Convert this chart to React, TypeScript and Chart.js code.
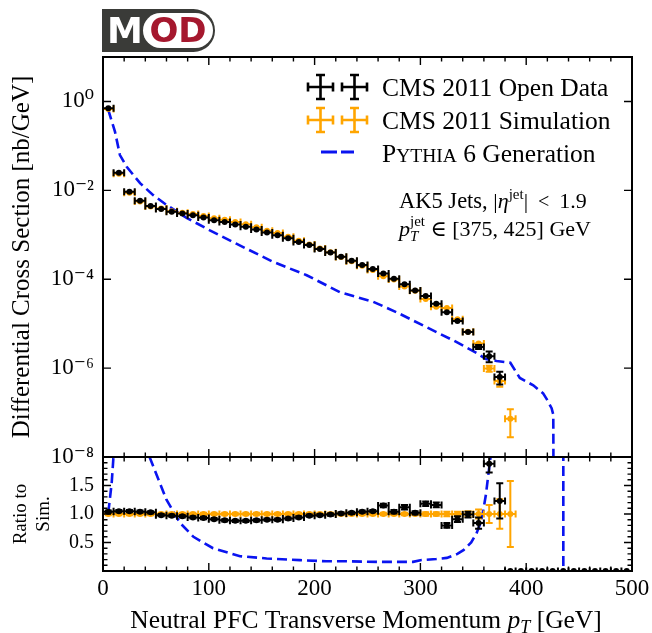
import React, { useEffect, useRef } from 'react';
import { Chart, registerables } from 'chart.js';
Chart.register(...registerables);

const FONT = "'Liberation Serif', 'DejaVu Serif', serif";

// ---------- data ----------
const binHalfWidth = 5;
const binCenters = [5, 15, 25, 35, 45, 55, 65, 75, 85, 95, 105, 115, 125, 135, 145, 155, 165, 175, 185, 195, 205, 215, 225, 235, 245, 255, 265, 275, 285, 295, 305, 315, 325, 335, 345, 355, 365, 375];
const dataValues = [0.70, 0.0248, 0.0093, 0.0058, 0.00447, 0.0038, 0.0033, 0.0030, 0.00276, 0.00246, 0.00213, 0.00195, 0.0017, 0.00151, 0.00132, 0.00112, 0.00098, 0.00083, 0.00069, 0.00059, 0.00048, 0.00040, 0.00032, 0.00026, 0.00021, 0.00017, 0.000135, 0.000102, 7.7e-5, 5.6e-5, 4.2e-5, 2.8e-5, 1.8e-5, 1.15e-5, 6.5e-6, 3.0e-6, 1.85e-6, 6.3e-7];
const dataErrors = [0, 0, 0, 0, 0, 0, 0, 0, 0, 0, 0, 0, 0, 0, 0, 0, 0, 0, 0, 0, 0, 0, 0, 0, 0, 0, 0, 0, 0, 0, 0, 0, 0, 0, 0, 0.3e-6, 0.5e-6, 0.2e-6];

const simCenters = [5, 15, 25, 35, 45, 55, 65, 75, 85, 95, 105, 115, 125, 135, 145, 155, 165, 175, 185, 195, 205, 215, 225, 235, 245, 255, 265, 275, 285, 295, 305, 315, 325, 335, 345, 355, 365, 375, 385];
const simValues = [0.673, 0.0236, 0.00886, 0.00558, 0.00434, 0.00388, 0.0034, 0.00313, 0.00294, 0.00265, 0.00234, 0.00219, 0.00193, 0.00172, 0.00148, 0.00124, 0.00109, 0.0009, 0.000734, 0.000608, 0.00049, 0.000404, 0.000317, 0.000255, 0.000202, 0.000162, 0.000117, 9.8e-5, 6.9e-5, 5.5e-5, 3.6e-5, 2.4e-5, 2.25e-5, 1.26e-5, 6.6e-6, 3.6e-6, 9.8e-7, 5.1e-7, 7.3e-8];
const simErrors = [0, 0, 0, 0, 0, 0, 0, 0, 0, 0, 0, 0, 0, 0, 0, 0, 0, 0, 0, 0, 0, 0, 0, 0, 0, 0, 0, 0, 0, 0, 0, 0, 0, 0, 0, 0, 0.15e-6, 0.13e-6, 4.5e-8];

const pythiaX = [5, 6, 11.3, 16, 22.4, 35, 47.5, 60, 79, 101, 126, 161, 192.5, 224, 255.5, 277.6, 301, 332, 353, 362, 372, 385, 394, 406.7, 416, 420, 424, 425.6, 426];
const pythiaY = [0.65, 0.54, 0.21, 0.062, 0.034, 0.0145, 0.0078, 0.0047, 0.0024, 0.00126, 6.3e-4, 2.45e-4, 1.23e-4, 5.1e-5, 3.1e-5, 1.8e-5, 9.5e-6, 4.1e-6, 2.2e-6, 1.6e-6, 1.45e-6, 1.32e-6, 6.0e-7, 4.1e-7, 2.7e-7, 1.9e-7, 1.25e-7, 9e-8, 1e-10];

const ratioCenters = [5, 15, 25, 35, 45, 55, 65, 75, 85, 95, 105, 115, 125, 135, 145, 155, 165, 175, 185, 195, 205, 215, 225, 235, 245, 255, 265, 275, 285, 295, 305, 315, 325, 335, 345, 355, 365, 375, 385, 395, 405, 415, 425, 435, 445, 455, 465, 475, 485, 495];
const ratioData = [1.04, 1.05, 1.05, 1.04, 1.03, 0.98, 0.97, 0.96, 0.94, 0.93, 0.91, 0.89, 0.88, 0.88, 0.89, 0.90, 0.90, 0.92, 0.94, 0.97, 0.98, 0.99, 1.01, 1.02, 1.04, 1.05, 1.15, 1.04, 1.12, 1.02, 1.18, 1.16, 0.80, 0.91, 0.99, 0.84, 1.88, 1.23, 0, 0, 0, 0, 0, 0, 0, 0, 0, 0, 0, 0];
const ratioDataErr = [0.02, 0.02, 0.02, 0.02, 0.02, 0.02, 0.02, 0.02, 0.02, 0.02, 0.02, 0.02, 0.02, 0.02, 0.02, 0.02, 0.02, 0.02, 0.02, 0.02, 0.02, 0.02, 0.02, 0.02, 0.02, 0.02, 0.03, 0.03, 0.04, 0.03, 0.04, 0.04, 0.04, 0.05, 0.05, 0.1, 0.15, 0.31, 0, 0, 0, 0, 0, 0, 0, 0, 0, 0, 0, 0];
const ratioSim = [1, 1, 1, 1, 1, 1, 1, 1, 1, 1, 1, 1, 1, 1, 1, 1, 1, 1, 1, 1, 1, 1, 1, 1, 1, 1, 1, 1, 1, 1, 1, 1, 1, 1, 1, 1, 1, 1, 1];
const ratioSimErr = [0.02, 0.02, 0.02, 0.02, 0.02, 0.02, 0.02, 0.02, 0.02, 0.02, 0.02, 0.02, 0.02, 0.02, 0.02, 0.02, 0.02, 0.02, 0.02, 0.02, 0.02, 0.02, 0.02, 0.02, 0.02, 0.02, 0.02, 0.02, 0.02, 0.02, 0.03, 0.03, 0.04, 0.04, 0.05, 0.08, 0.16, 0.26, 0.58];
const ratioPythiaX = [5, 8.2, 9.7, 12, 15, 25, 35, 44, 60, 73, 85.5, 104, 129.5, 154.7, 186, 211, 230, 260, 293, 300, 315, 325, 335, 341, 348, 353, 357, 359.5, 362, 364, 367, 375, 385, 435, 435.1];
const ratioPythiaY = [1.02, 1.54, 1.95, 3.0, 3.4, 3.3, 2.6, 2.0, 1.25, 0.84, 0.6, 0.4, 0.26, 0.22, 0.19, 0.17, 0.17, 0.16, 0.16, 0.19, 0.21, 0.23, 0.3, 0.37, 0.5, 0.66, 0.85, 1.07, 1.35, 1.66, 2.1, 2.7, 18, 18, -1];

// ---------- ticks ----------
const mainYTicks = [1, 1e-2, 1e-4, 1e-6, 1e-8];
const mainYTickLabels = ['10⁰', '10⁻²', '10⁻⁴', '10⁻⁶', '10⁻⁸'];
const xTicks = [0, 100, 200, 300, 400, 500];
const xMinorTicks = [20, 40, 60, 80, 120, 140, 160, 180, 220, 240, 260, 280, 320, 340, 360, 380, 420, 440, 460, 480];
const ratioYTicks = [0.5, 1.0, 1.5];
const ratioYTickLabels = ['0.5', '1.0', '1.5'];
const ratioYMinorTicks = [0.1, 0.2, 0.3, 0.4, 0.6, 0.7, 0.8, 0.9, 1.1, 1.2, 1.3, 1.4, 1.6, 1.7, 1.8, 1.9];

const BLACK = '#000000';
const ORANGE = '#ffa500';
const BLUE = '#0a14f0';

// ---------- plugins ----------
const errorBarPlugin = {
  id: 'errbars',
  beforeDatasetDraw(chart: any, args: any) {
    const ds = chart.data.datasets[args.index];
    if (!ds.errX) return;
    const xs = chart.scales.x;
    const ys = chart.scales.y;
    const ca = chart.chartArea;
    const ctx = chart.ctx;
    const isLog = ys.type === 'logarithmic';
    const yPix = (v: number) => (isLog && v <= 0 ? ca.bottom + 50 : ys.getPixelForValue(v));
    ctx.save();
    ctx.beginPath();
    ctx.rect(ca.left, ca.top, ca.right - ca.left, ca.bottom - ca.top);
    ctx.clip();
    ctx.strokeStyle = ds.barColor;
    ctx.lineWidth = 2;
    ctx.beginPath();
    ds.data.forEach((p: any, i: number) => {
      const ex = ds.errX[i];
      const ey = ds.errY[i];
      const cx = xs.getPixelForValue(p.x);
      const cy = yPix(p.y);
      const x0 = xs.getPixelForValue(p.x - ex);
      const x1 = xs.getPixelForValue(p.x + ex);
      ctx.moveTo(x0, cy); ctx.lineTo(x1, cy);
      ctx.moveTo(x0, cy - 3.5); ctx.lineTo(x0, cy + 3.5);
      ctx.moveTo(x1, cy - 3.5); ctx.lineTo(x1, cy + 3.5);
      if (ey > 0) {
        const y0 = yPix(p.y - ey);
        const y1 = yPix(p.y + ey);
        ctx.moveTo(cx, y0); ctx.lineTo(cx, y1);
        ctx.moveTo(cx - 3.5, y0); ctx.lineTo(cx + 3.5, y0);
        ctx.moveTo(cx - 3.5, y1); ctx.lineTo(cx + 3.5, y1);
      }
    });
    ctx.stroke();
    ctx.restore();
  },
};

const frameTicksPlugin = {
  id: 'frameTicks',
  afterDatasetsDraw(chart: any, _a: any, opts: any) {
    if (!opts || !opts.enabled) return;
    const { ctx, chartArea: ca } = chart;
    const xs = chart.scales.x;
    const ys = chart.scales.y;
    ctx.save();
    ctx.strokeStyle = '#000';
    ctx.lineWidth = 1.4;
    ctx.beginPath();
    const xt = (vals: number[], len: number) =>
      vals.forEach((v) => {
        const p = xs.getPixelForValue(v);
        ctx.moveTo(p, ca.top); ctx.lineTo(p, ca.top + len);
        ctx.moveTo(p, ca.bottom); ctx.lineTo(p, ca.bottom - len);
      });
    const yt = (vals: number[], len: number) =>
      vals.forEach((v) => {
        const p = ys.getPixelForValue(v);
        ctx.moveTo(ca.left, p); ctx.lineTo(ca.left + len, p);
        ctx.moveTo(ca.right, p); ctx.lineTo(ca.right - len, p);
      });
    xt(opts.xMajor, 8); xt(opts.xMinor, 4.5);
    yt(opts.yMajor, 8); yt(opts.yMinor, 4.5);
    ctx.stroke();
    ctx.lineWidth = 2;
    ctx.strokeRect(ca.left, ca.top, ca.right - ca.left, ca.bottom - ca.top);
    ctx.restore();
  },
};

type Seg = { t: string; size: number; italic?: boolean; dy?: number; stack?: boolean };
function drawSegs(ctx: CanvasRenderingContext2D, segs: Seg[], x: number, y: number, align: 'left' | 'center' | 'right') {
  const fontOf = (s: Seg) => `${s.italic ? 'italic ' : ''}${s.size}px ${FONT}`;
  const widths = segs.map((s) => { ctx.font = fontOf(s); return ctx.measureText(s.t).width; });
  let total = 0;
  for (let i = 0; i < segs.length; i++) {
    if (segs[i].stack) { total += Math.max(widths[i], widths[i + 1]); i++; } else total += widths[i];
  }
  let cx = align === 'left' ? x : align === 'right' ? x - total : x - total / 2;
  ctx.textBaseline = 'alphabetic';
  ctx.textAlign = 'left';
  ctx.fillStyle = '#000';
  for (let i = 0; i < segs.length; i++) {
    const s = segs[i];
    ctx.font = fontOf(s);
    ctx.fillText(s.t, cx, y + (s.dy || 0));
    if (s.stack) {
      const n = segs[i + 1];
      ctx.font = fontOf(n);
      ctx.fillText(n.t, cx, y + (n.dy || 0));
      cx += Math.max(widths[i], widths[i + 1]);
      i++;
    } else cx += widths[i];
  }
}

function drawCross(ctx: CanvasRenderingContext2D, cx: number, cy: number, color: string) {
  ctx.strokeStyle = color;
  ctx.lineWidth = 2.6;
  ctx.beginPath();
  ctx.moveTo(cx - 12.5, cy); ctx.lineTo(cx + 12.5, cy);
  ctx.moveTo(cx, cy - 12); ctx.lineTo(cx, cy + 12);
  ctx.moveTo(cx - 12.5, cy - 4.5); ctx.lineTo(cx - 12.5, cy + 4.5);
  ctx.moveTo(cx + 12.5, cy - 4.5); ctx.lineTo(cx + 12.5, cy + 4.5);
  ctx.moveTo(cx - 4.5, cy - 12); ctx.lineTo(cx + 4.5, cy - 12);
  ctx.moveTo(cx - 4.5, cy + 12); ctx.lineTo(cx + 4.5, cy + 12);
  ctx.stroke();
}

const mainTextPlugin = {
  id: 'mainText',
  afterDraw(chart: any) {
    const ctx: CanvasRenderingContext2D = chart.ctx;
    ctx.save();
    // legend
    drawCross(ctx, 320.5, 87, BLACK); drawCross(ctx, 354.5, 87, BLACK);
    drawCross(ctx, 320.5, 120, ORANGE); drawCross(ctx, 354.5, 120, ORANGE);
    ctx.strokeStyle = BLUE; ctx.lineWidth = 3;
    ctx.beginPath();
    ctx.moveTo(321, 152); ctx.lineTo(337, 152);
    ctx.moveTo(341, 152); ctx.lineTo(354, 152);
    ctx.stroke();
    drawSegs(ctx, [{ t: 'CMS 2011 Open Data', size: 25.5 }], 382, 96, 'left');
    drawSegs(ctx, [{ t: 'CMS 2011 Simulation', size: 25.5 }], 382, 129, 'left');
    drawSegs(ctx, [{ t: 'P', size: 25.5 }, { t: 'YTHIA', size: 19.5 }, { t: ' 6 Generation', size: 25.5 }], 382, 162, 'left');
    // annotation
    drawSegs(ctx, [
      { t: 'AK5 Jets, ', size: 22.5 },
      { t: '|', size: 22 },
      { t: 'η', size: 22, italic: true },
      { t: 'jet', size: 15, dy: -9 },
      { t: '|', size: 22 },
      { t: '  <  ', size: 20 },
      { t: '1.9', size: 22 },
    ], 399, 208, 'left');
    drawSegs(ctx, [
      { t: 'p', size: 22, italic: true },
      { t: 'T', size: 15, italic: true, dy: 5, stack: true },
      { t: 'jet', size: 15, dy: -10 },
      { t: ' ∈ [375, 425] GeV', size: 22 },
    ], 399, 236, 'left');
    ctx.restore();
  },
};

const ratioTextPlugin = {
  id: 'ratioText',
  afterDraw(chart: any) {
    const ctx: CanvasRenderingContext2D = chart.ctx;
    ctx.save();
    drawSegs(ctx, [
      { t: 'Neutral PFC Transverse Momentum ', size: 25.5 },
      { t: 'p', size: 25.5, italic: true },
      { t: 'T', size: 18, italic: true, dy: 5 },
      { t: ' [GeV]', size: 25.5 },
    ], 366, 176, 'center');
    ctx.restore();
  },
};

function errSet(label: string, xs: number[], ys: number[], errs: number[], color: string) {
  return {
    label,
    data: xs.map((x, i) => ({ x, y: ys[i] })),
    pointRadius: 3,
    pointHoverRadius: 3,
    pointBackgroundColor: color,
    pointBorderWidth: 0,
    showLine: false,
    errX: xs.map(() => binHalfWidth),
    errY: errs,
    barColor: color,
  };
}

const zeroPad = (s: any) => { s.paddingTop = 0; s.paddingBottom = 0; s.paddingLeft = 0; s.paddingRight = 0; };

export default function App() {
  const mainRef = useRef<HTMLCanvasElement>(null);
  const ratioRef = useRef<HTMLCanvasElement>(null);

  useEffect(() => {
    const tickFont = { family: FONT, size: 23 };
    const main = new Chart(mainRef.current as HTMLCanvasElement, {
      type: 'scatter',
      data: {
        datasets: [
          errSet('CMS 2011 Open Data', binCenters, dataValues, dataErrors, BLACK) as any,
          errSet('CMS 2011 Simulation', simCenters, simValues, simErrors, ORANGE) as any,
          {
            label: 'Pythia 6 Generation',
            data: pythiaX.map((x, i) => ({ x, y: pythiaY[i] })),
            showLine: true,
            borderColor: BLUE,
            borderWidth: 2.6,
            borderDash: [10, 5],
            pointRadius: 0,
            fill: false,
            tension: 0,
          } as any,
        ],
      },
      options: {
        responsive: false,
        animation: false,
        devicePixelRatio: 1,
        layout: { padding: { top: 57, right: 20, bottom: 13, left: 0 } },
        scales: {
          x: { type: 'linear', min: 0, max: 500, display: false },
          y: {
            type: 'logarithmic',
            min: 1e-8,
            max: 10,
            afterBuildTicks: (s: any) => { s.ticks = mainYTicks.map((v) => ({ value: v })); },
            afterFit: (s: any) => { s.width = 103; zeroPad(s); },
            grid: { display: false, drawTicks: false },
            border: { display: false },
            ticks: {
              font: tickFont,
              color: '#000',
              padding: 9,
              autoSkip: false,
              callback: (_v: any, i: number) => mainYTickLabels[i],
            },
            title: {
              display: true,
              text: 'Differential Cross Section [nb/GeV]',
              font: { family: FONT, size: 25 },
              color: '#000',
              padding: { top: 7, bottom: 0 },
            },
          } as any,
        },
        plugins: {
          legend: { display: false },
          tooltip: { enabled: false },
          frameTicks: { enabled: true, xMajor: xTicks, xMinor: xMinorTicks, yMajor: mainYTicks, yMinor: [] },
        } as any,
      },
      plugins: [errorBarPlugin, frameTicksPlugin, mainTextPlugin],
    });

    const ratio = new Chart(ratioRef.current as HTMLCanvasElement, {
      type: 'scatter',
      data: {
        datasets: [
          errSet('Data / Sim', ratioCenters, ratioData, ratioDataErr, BLACK) as any,
          errSet('Sim / Sim', simCenters, ratioSim, ratioSimErr, ORANGE) as any,
          {
            label: 'Pythia / Sim',
            data: ratioPythiaX.map((x, i) => ({ x, y: ratioPythiaY[i] })),
            showLine: true,
            borderColor: BLUE,
            borderWidth: 2.6,
            borderDash: [10, 5],
            pointRadius: 0,
            fill: false,
            tension: 0,
          } as any,
        ],
      },
      options: {
        responsive: false,
        animation: false,
        devicePixelRatio: 1,
        layout: { padding: { top: 5, right: 20, bottom: 0, left: 0 } },
        scales: {
          x: {
            type: 'linear',
            min: 0,
            max: 500,
            afterBuildTicks: (s: any) => { s.ticks = xTicks.map((v) => ({ value: v })); },
            afterFit: (s: any) => { s.height = 62; zeroPad(s); },
            grid: { display: false, drawTicks: false },
            border: { display: false },
            ticks: { font: tickFont, color: '#000', padding: 4, maxRotation: 0, autoSkip: false },
          } as any,
          y: {
            type: 'linear',
            min: 0,
            max: 2,
            afterBuildTicks: (s: any) => { s.ticks = ratioYTicks.map((v) => ({ value: v })); },
            afterFit: (s: any) => { s.width = 103; zeroPad(s); },
            grid: { display: false, drawTicks: false },
            border: { display: false },
            ticks: {
              font: { family: FONT, size: 20 },
              color: '#000',
              padding: 9,
              autoSkip: false,
              callback: (_v: any, i: number) => ratioYTickLabels[i],
            },
            title: {
              display: true,
              text: ['Ratio to', 'Sim.'],
              font: { family: FONT, size: 19 },
              color: '#000',
              padding: { top: 10, bottom: 0 },
            },
          } as any,
        },
        plugins: {
          legend: { display: false },
          tooltip: { enabled: false },
          frameTicks: { enabled: true, xMajor: xTicks, xMinor: xMinorTicks, yMajor: ratioYTicks, yMinor: ratioYMinorTicks },
        } as any,
      },
      plugins: [errorBarPlugin, frameTicksPlugin, ratioTextPlugin],
    });

    return () => {
      main.destroy();
      ratio.destroy();
    };
  }, []);

  return (
    <div style={{ position: 'absolute', left: 0, top: 0, width: 652, height: 633, background: '#fff', overflow: 'hidden' }}>
      <canvas ref={mainRef} width={652} height={470} style={{ position: 'absolute', left: 0, top: 0 }} />
      <canvas ref={ratioRef} width={652} height={181} style={{ position: 'absolute', left: 0, top: 452 }} />
      <div style={{ position: 'absolute', left: 102, top: 9, width: 113, height: 43, background: '#3a3b38', borderRadius: '0 22px 22px 0' }}>
        <div style={{ position: 'absolute', left: 5, top: 0, height: 43, lineHeight: '43px', color: '#fff', fontFamily: "'DejaVu Sans', sans-serif", fontWeight: 'bold', fontSize: 36 }}>M</div>
        <div style={{ position: 'absolute', left: 41, top: 4, width: 70, height: 35, background: '#fff', borderRadius: 18, textAlign: 'center', lineHeight: '35px', color: '#a5182e', fontFamily: "'DejaVu Sans', sans-serif", fontWeight: 'bold', fontSize: 34 }}>OD</div>
      </div>
    </div>
  );
}
